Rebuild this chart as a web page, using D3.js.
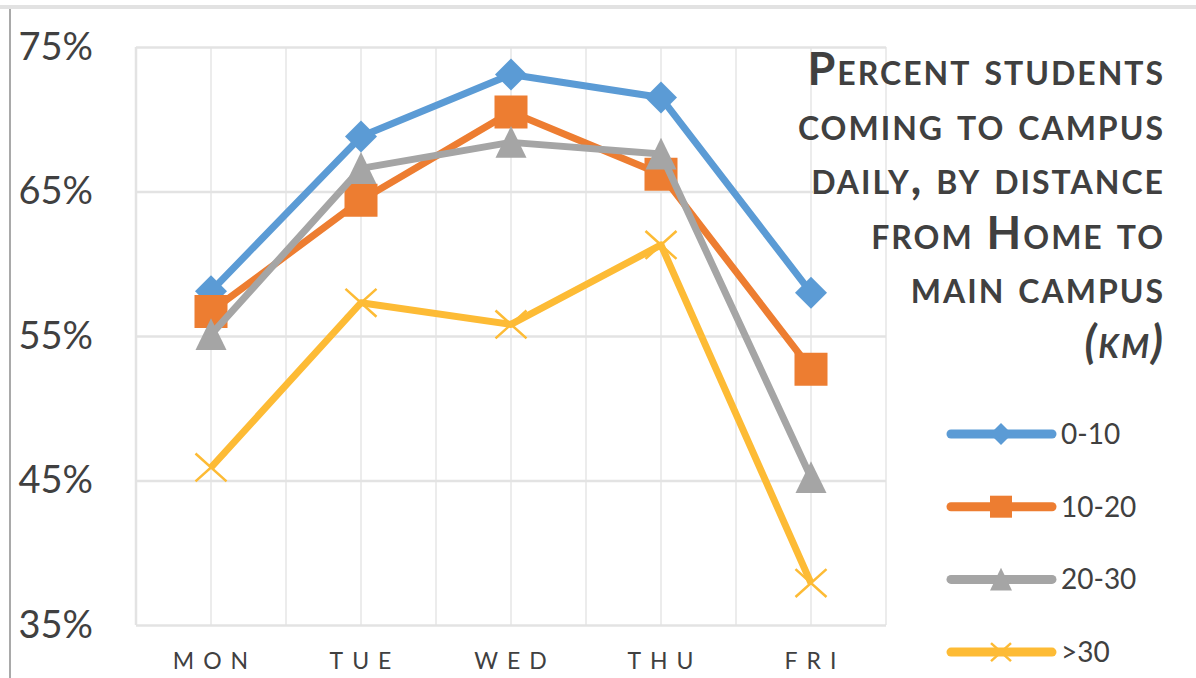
<!DOCTYPE html>
<html>
<head>
<meta charset="utf-8">
<script src="https://cdn.jsdelivr.net/npm/d3@7"></script>
<style>
  body { margin: 0; background: #fff; }
  svg { display: block; }
</style>
</head>
<body>
<svg id="chart" width="1196" height="678"></svg>
<script>
// data
const days = ["MON", "TUE", "WED", "THU", "FRI"];
const seriesNames = ["0-10", "10-20", "20-30", ">30"];
const values0to10 = [58.1, 68.8, 73.1, 71.5, 58.0];
const values10to20 = [56.7, 64.4, 70.5, 66.2, 52.7];
const values20to30 = [55.1, 66.6, 68.4, 67.6, 45.2];
const valuesOver30 = [45.9, 57.3, 55.8, 61.3, 37.9];
const yTicks = [35, 45, 55, 65, 75];
const titleLines = ["Percent students", "coming to campus", "daily, by distance", "from Home to", "main campus"];
const titleUnit = "(km)";

const seriesColors = ["#5b9bd5", "#ed7d31", "#a5a5a5", "#fdbb35"];
const markerTypes = ["diamond", "square", "triangle", "cross"];

// plot box
const margin = { left: 136, top: 47, right: 310, bottom: 53 };
const W = 1196, H = 678;
const width = W - margin.left - margin.right;
const height = H - margin.top - margin.bottom;

const textColor = "#404040";
const font = "Lato, 'Open Sans', sans-serif";

const series = [values0to10, values10to20, values20to30, valuesOver30].map((v, i) => ({
  name: seriesNames[i], color: seriesColors[i], marker: markerTypes[i], values: v
}));

const svgElement = d3.select("#chart");

// outer frame like the original screenshot
svgElement.append("rect")
  .attr("x", 0).attr("y", 5).attr("width", W).attr("height", 4)
  .attr("fill", "#e2e2e2");
svgElement.append("line")
  .attr("x1", 10).attr("x2", 10).attr("y1", 9).attr("y2", H)
  .attr("stroke", "#8c8c8c").attr("stroke-width", 1.5);

const svg = svgElement.append("g")
  .attr("transform", `translate(${margin.left}, ${margin.top})`);

const x = d3.scaleBand().domain(days).range([0, width]);
const cx = d => x(d) + x.bandwidth() / 2;
const y = d3.scaleLinear().domain([35, 75]).range([height, 0]);

// vertical grid: band edges and band centres
const vLines = [];
days.forEach(d => { vLines.push(x(d)); vLines.push(cx(d)); });
vLines.push(width);
svg.append("g").selectAll("line")
  .data(vLines)
  .join("line")
  .attr("x1", d => d).attr("x2", d => d)
  .attr("y1", 0).attr("y2", height)
  .attr("stroke", "#ececec").attr("stroke-width", 2);

// horizontal grid
svg.append("g")
  .call(d3.axisLeft(y).tickValues(yTicks).tickSize(-width).tickFormat(""))
  .call(g => g.select(".domain").remove())
  .call(g => g.selectAll(".tick line").attr("stroke", "#e3e3e3").attr("stroke-width", 2.5));

// plot border left
svg.append("line")
  .attr("x1", 0).attr("x2", 0).attr("y1", 0).attr("y2", height)
  .attr("stroke", "#e3e3e3").attr("stroke-width", 2.5);

// title box, sits over the grid but under the lines
svg.append("rect")
  .attr("x", cx("FRI") + 2).attr("y", 5).attr("width", 72).attr("height", 276)
  .attr("fill", "#fff");

// y axis labels
svg.append("g")
  .call(d3.axisLeft(y).tickValues(yTicks).tickSize(0).tickPadding(43).tickFormat(d => d + "%"))
  .call(g => g.select(".domain").remove())
  .call(g => g.selectAll("text")
    .attr("fill", textColor)
    .style("font", `38px ${font}`));

// x axis labels
svg.append("g")
  .attr("transform", `translate(0, ${height})`)
  .call(d3.axisBottom(x).tickSize(0).tickPadding(28))
  .call(g => g.select(".domain").remove())
  .call(g => g.selectAll("text")
    .attr("fill", textColor)
    .attr("dx", 4)
    .style("font", `23px ${font}`)
    .style("letter-spacing", "9px"));

// marker shapes
function markerPath(type, s) {
  const h = s / 2;
  if (type === "diamond") return `M0,${-h}L${h},0L0,${h}L${-h},0Z`;
  if (type === "square") return `M${-h},${-h}H${h}V${h}H${-h}Z`;
  if (type === "triangle") return `M0,${-h * 1.05}L${h},${h * 1.0}L${-h},${h * 1.0}Z`;
  return `M${-h},${-h * 0.9}L${h},${h * 0.9}M${h},${-h * 0.9}L${-h},${h * 0.9}`;
}
const markerSize = { diamond: 32, square: 33, triangle: 31, cross: 31 };

const line = d3.line()
  .x((d, i) => cx(days[i]))
  .y(d => y(d));

series.forEach(s => {
  const g = svg.append("g");
  g.append("path")
    .datum(s.values)
    .attr("fill", "none")
    .attr("stroke", s.color)
    .attr("stroke-width", 7)
    .attr("stroke-linejoin", "round")
    .attr("d", line);
  g.selectAll("path.mark")
    .data(s.values)
    .join("path")
    .attr("class", "mark")
    .attr("transform", (d, i) => `translate(${cx(days[i])}, ${y(d)})`)
    .attr("d", markerPath(s.marker, markerSize[s.marker]))
    .attr("fill", s.marker === "cross" ? "none" : s.color)
    .attr("stroke", s.marker === "cross" ? s.color : "none")
    .attr("stroke-width", 2.5);
});

// title
const title = svgElement.append("text")
  .attr("text-anchor", "end")
  .attr("fill", textColor)
  .style("font", `bold 45px ${font}`)
  .style("font-variant", "small-caps")
  .style("letter-spacing", "2px");
titleLines.forEach((t, i) => {
  title.append("tspan").attr("x", 1165).attr("y", 85 + i * 54.5).text(t);
});
title.append("tspan").attr("x", 1165).attr("y", 85 + 5 * 54.5)
  .style("font-style", "italic").text(titleUnit);

// legend
const legend = svgElement.append("g");
series.forEach((s, i) => {
  const ly = 434 + i * 72.7;
  legend.append("line")
    .attr("x1", 951).attr("x2", 1052).attr("y1", ly).attr("y2", ly)
    .attr("stroke", s.color).attr("stroke-width", 9).attr("stroke-linecap", "round");
  legend.append("path")
    .attr("transform", `translate(1001, ${ly})`)
    .attr("d", markerPath(s.marker, s.marker === "cross" ? 20 : 22))
    .attr("fill", s.marker === "cross" ? "none" : s.color)
    .attr("stroke", s.marker === "cross" ? s.color : "none")
    .attr("stroke-width", 2.5);
  legend.append("text")
    .attr("x", 1061).attr("y", ly)
    .attr("dy", "0.35em")
    .attr("fill", textColor)
    .style("font", `28px ${font}`)
    .text(s.name);
});
</script>
</body>
</html>
